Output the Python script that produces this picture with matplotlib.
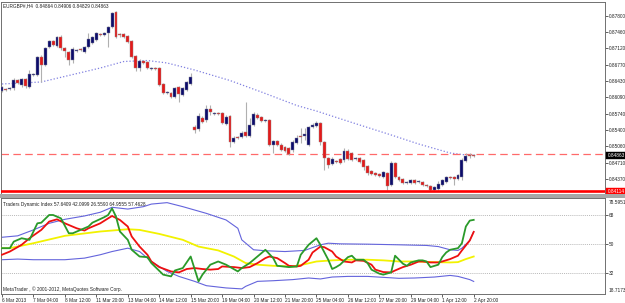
import matplotlib
matplotlib.use("Agg")
import matplotlib.pyplot as plt
import matplotlib.transforms as mtransforms
from matplotlib.patches import Rectangle

# EURGBP# H4, bar 0 = 6 Mar 2013 ... bar 120 = 2 Apr 20:00
opens = [.86223, .86265, .86265, .86286, .86454, .86349, .86475, .86307, .86559, .86559,
         .86938, .86769, .87148, .87274, .87169, .87359, .87127, .87043, .86875, .87064,
         .87106, .87043, .87148, .87232, .87295, .87422, .87401, .87443, .87569, .87885,
         .87422, .87422, .87380, .87274, .86959, .86706, .86854, .86833, .86685, .86706,
         .86706, .86370, .86180, .86180, .86096, .86307, .86138, .86244, .86370, .85465,
         .85423, .85654, .85612, .85843, .85738, .85759, .85759, .85528, .85696, .85149,
         .85255, .85255, .85360, .85276, .85507, .85717, .85675, .85591, .85612, .85086,
         .85170, .85086, .85044, .85023, .84981, .85128, .85276, .85276, .85086, .85465,
         .85486, .85549, .85149, .84813, .84687, .84750, .84792, .84771, .84960, .84918,
         .84792, .84813, .84771, .84645, .84539, .84497, .84476, .84413, .84497, .84245,
         .84708, .84413, .84371, .84287, .84287, .84350, .84308, .84308, .84245, .84224,
         .84140, .84161, .84245, .84308, .84413, .84413, .84371, .84413, .84750, .84876,
         .84864]
highs = [.86328, .86286, .86307, .86496, .86475, .86496, .86496, .86664, .86601, .86959,
         .86980, .87148, .87295, .87295, .87380, .87401, .87148, .87064, .87148, .87106,
         .87127, .87169, .87443, .87380, .87464, .87443, .87464, .87590, .87885, .87906,
         .87443, .87443, .87401, .87295, .86980, .86896, .86875, .86854, .86727, .86727,
         .86727, .86391, .86223, .86201, .86307, .86328, .86307, .86433, .86601, .85507,
         .85759, .85696, .85928, .85928, .85780, .85780, .85780, .85717, .85717, .85276,
         .85276, .85381, .85991, .85654, .85780, .85759, .85696, .85633, .85633, .85191,
         .85191, .85128, .85065, .85044, .85191, .85297, .85444, .85444, .85486, .85549,
         .85591, .85570, .85170, .84834, .84834, .84771, .84813, .85023, .85002, .84939,
         .84834, .84834, .84792, .84666, .84560, .84518, .84497, .84539, .84518, .84750,
         .84729, .84434, .84392, .84329, .84371, .84371, .84350, .84329, .84266, .84245,
         .84224, .84329, .84371, .84434, .84434, .84434, .84476, .84813, .84918, .84918,
         .84906]
lows = [.86201, .86223, .86244, .86244, .86370, .86307, .86286, .86286, .86538, .86538,
        .86412, .86748, .87127, .87169, .87148, .87085, .86938, .86769, .86812, .87043,
        .87064, .87022, .87127, .87211, .87274, .87380, .87380, .87148, .87548, .87337,
        .87359, .87337, .87232, .86917, .86643, .86643, .86791, .86685, .86664, .86664,
        .86328, .86159, .86159, .86075, .86075, .85991, .86117, .86223, .86349, .85339,
        .85381, .85549, .85570, .85717, .85717, .85717, .85528, .85507, .85044, .85128,
        .85212, .85234, .85255, .85255, .85486, .85633, .85570, .85570, .85065, .84918,
        .85065, .84960, .84939, .84876, .84939, .85107, .85128, .85191, .85065, .85444,
        .85465, .85086, .84560, .84602, .84666, .84708, .84687, .84729, .84771, .84750,
        .84771, .84708, .84560, .84455, .84455, .84434, .84413, .84392, .84140, .84224,
        .84392, .84329, .84266, .84266, .84266, .84266, .84287, .84224, .84203, .84114,
        .84114, .84140, .84224, .84287, .84371, .84245, .84350, .84350, .84729, .84813,
        .84829]
closes = [.86307, .86244, .86286, .86454, .86391, .86475, .86328, .86580, .86580, .86938,
          .86769, .87127, .87274, .87190, .87359, .87127, .87064, .86875, .87106, .87085,
          .87085, .87148, .87316, .87359, .87443, .87401, .87443, .87569, .87864, .87359,
          .87401, .87359, .87253, .86938, .86706, .86854, .86812, .86706, .86706, .86685,
          .86349, .86180, .86201, .86096, .86286, .86159, .86286, .86412, .86517, .85402,
          .85696, .85570, .85843, .85780, .85759, .85738, .85549, .85675, .85149, .85234,
          .85234, .85339, .85276, .85507, .85738, .85654, .85591, .85612, .85086, .85170,
          .85086, .84981, .84960, .84897, .85149, .85234, .85255, .85318, .85465, .85507,
          .85549, .85149, .84813, .84666, .84792, .84729, .84708, .84960, .84792, .84771,
          .84813, .84729, .84623, .84497, .84476, .84455, .84434, .84518, .84224, .84708,
          .84413, .84350, .84287, .84308, .84350, .84287, .84329, .84245, .84224, .84140,
          .84203, .84266, .84350, .84413, .84392, .84371, .84455, .84771, .84855, .84855,
          .84863]

# dotted moving average on the price chart
ma_bar = [0, 10, 17, 25, 31, 37, 42, 49, 58, 66, 75, 80, 89, 99, 106, 114, 118, 120]
ma_val = [.86370, .86412, .86549, .86706, .86843, .86864, .86812, .86664, .86443, .86201,
          .85917, .85801, .85560, .85297, .85107, .84918, .84876, .84870]

dash_level = 0.84900
support_level = 0.84114
last_price = 0.84863

price_ticks = [0.87800, 0.87460, 0.87120, 0.86770, 0.86430, 0.86090, 0.85740, 0.85400,
               0.85060, 0.84710, 0.84370]

# Traders Dynamic Index
green_bar = [0, 2, 3, 5, 7, 9, 10, 12, 13, 15, 17, 18, 20, 22, 23, 26, 27, 28, 29, 30,
             32, 33, 35, 37, 38, 41, 43, 44, 46, 48, 50, 51, 53, 55, 57, 60, 61, 63, 66, 67,
             69, 70, 73, 75, 76, 78, 80, 81, 83, 84, 85, 86, 88, 89, 90, 92, 93, 94, 96, 97,
             99, 100, 102, 103, 104, 106, 107, 108, 109, 111, 112, 113, 114, 116, 117, 118, 119, 120]
green_val = [47.3, 47.3, 51.4, 53.5, 52.5, 62.8, 63.2, 68.0, 68.0, 65.9, 56.6, 56.6, 58.7, 60.8,
             63.2, 66.6, 68.0, 72.1, 67.0, 57.7, 52.5, 46.3, 42.1, 41.7, 38.0, 30.8, 29.7, 33.4,
             34.9, 42.1, 26.6, 30.8, 37.0, 39.0, 37.0, 32.8, 34.9, 38.0, 44.2, 46.3, 41.1, 36.3,
             35.5, 35.9, 43.2, 49.4, 53.5, 49.4, 40.1, 34.3, 35.5, 37.0, 41.7, 42.6, 40.1, 40.1,
             38.0, 33.9, 31.4, 30.8, 32.2, 42.6, 37.6, 36.3, 38.4, 39.7, 39.7, 39.0, 35.5, 37.0,
             41.7, 44.6, 46.3, 47.3, 50.4, 60.8, 64.5, 64.9555]
red_bar = [0, 2, 5, 7, 10, 12, 14, 16, 19, 21, 22, 25, 27, 28, 30, 32, 33, 35, 37, 38,
           40, 43, 45, 47, 49, 51, 53, 55, 56, 59, 61, 63, 65, 67, 68, 70, 72, 73, 75, 76,
           78, 79, 81, 82, 84, 85, 87, 89, 90, 92, 94, 95, 97, 99, 100, 102, 104, 106, 107, 109,
           111, 112, 114, 116, 117, 119, 120]
red_val = [43.2, 45.2, 49.4, 53.5, 58.7, 63.9, 65.3, 62.8, 59.7, 58.3, 59.7, 62.8, 65.9, 67.4,
           64.9, 60.8, 54.6, 48.3, 43.2, 39.0, 35.5, 32.8, 32.2, 34.3, 34.9, 34.3, 33.9, 34.3,
           35.9, 35.5, 34.9, 35.5, 38.0, 41.1, 42.1, 41.1, 38.0, 36.3, 35.9, 36.3, 40.1, 44.6,
           48.3, 47.9, 45.2, 42.1, 39.0, 38.4, 39.7, 39.4, 37.0, 33.9, 32.4, 32.2, 33.4, 35.5,
           37.0, 39.0, 39.0, 38.4, 38.4, 39.0, 40.5, 42.6, 45.9, 52.1, 57.4628]
yellow_bar = [0, 2, 8, 16, 25, 32, 35, 40, 46, 50, 55, 59, 62, 65, 69, 74, 77, 80, 84, 88,
              93, 97, 101, 105, 110, 114, 116, 118, 120]
yellow_val = [47.3, 47.3, 50.4, 55.0, 57.7, 59.1, 58.7, 56.2, 52.5, 48.3, 45.9, 42.1, 38.0, 37.0,
              36.3, 35.9, 37.3, 39.0, 39.7, 40.1, 40.1, 39.7, 39.0, 39.0, 38.6, 38.4, 38.6, 40.5,
              42.0999]
upper_bar = [0, 4, 8, 12, 16, 21, 25, 28, 32, 36, 38, 42, 46, 52, 57, 60, 61, 64, 67, 72,
             77, 81, 83, 86, 93, 101, 108, 111, 114, 116, 117, 119, 120]
upper_val = [54.1, 55.0, 58.7, 62.8, 65.3, 67.4, 69.7, 72.8, 71.7, 73.2, 74.8, 75.7, 73.2, 69.0,
             64.9, 59.7, 52.5, 46.3, 45.7, 45.2, 45.9, 49.4, 50.4, 50.0, 49.8, 49.4, 49.0, 48.3,
             46.3, 45.9, 47.3, 52.1, 57.6409]
lower_bar = [0, 4, 8, 12, 16, 21, 25, 28, 32, 35, 38, 42, 45, 49, 52, 57, 61, 62, 65, 69,
             74, 78, 81, 84, 88, 93, 97, 101, 105, 110, 114, 116, 119, 120]
lower_val = [40.1, 40.5, 40.1, 40.1, 40.1, 41.1, 43.2, 45.2, 47.3, 45.2, 39.0, 32.8, 29.7, 26.6,
             23.9, 22.5, 21.9, 23.5, 26.6, 27.0, 27.7, 28.7, 28.1, 29.3, 29.7, 29.7, 29.1, 28.5,
             28.7, 29.3, 30.3, 29.7, 27.7, 26.5590]

tdi_levels = [68, 50, 32]
tdi_min, tdi_max = 18.7173, 78.5951

time_bars = [0, 8, 16, 24, 32, 40, 48, 56, 64, 72, 80, 88, 96, 104, 112, 120]
time_labels = ["6 Mar 2013", "7 Mar 04:00", "8 Mar 12:00", "11 Mar 20:00", "13 Mar 04:00",
               "14 Mar 12:00", "15 Mar 20:00", "19 Mar 04:00", "20 Mar 12:00", "21 Mar 20:00",
               "25 Mar 04:00", "26 Mar 12:00", "27 Mar 20:00", "29 Mar 04:00", "1 Apr 12:00",
               "2 Apr 20:00"]

plt.rcParams['font.family'] = ['Liberation Sans', 'DejaVu Sans']
FS = 3.4
TXT = '#202020'

W, H = 625, 303
fig = plt.figure(figsize=(W / 100, H / 100), dpi=100)
fig.patch.set_facecolor('white')

def box(x0, y0, x1, y1):
    # pixel box (from top-left) -> figure fractions
    return [x0 / W, 1 - y1 / H, (x1 - x0) / W, (y1 - y0) / H]

ax1 = fig.add_axes(box(1, 2, 605, 194))
ax2 = fig.add_axes(box(1, 198, 605, 294))
fig.add_artist(Rectangle((0, 1 - 197.6 / H), 1, 3.2 / H, transform=fig.transFigure,
                         color='#a8a8a8', lw=0))

xmin, xmax = -0.25, 153.4

# ---- price window
idx = list(range(len(opens)))
ax1.vlines(idx, lows, highs, color='#b0b0b0', lw=0.8, zorder=2)
bull = [i for i in idx if closes[i] > opens[i]]
bear = [i for i in idx if closes[i] <= opens[i]]
ax1.bar(bull, [max(closes[i] - opens[i], 0.00008) for i in bull],
        bottom=[opens[i] for i in bull], width=0.75, color='#0c0c6c',
        edgecolor='#8a8a9a', lw=0.3, zorder=3)
ax1.bar(bear, [max(opens[i] - closes[i], 0.00008) for i in bear],
        bottom=[closes[i] for i in bear], width=0.75, color='#e41a1a',
        edgecolor='#9a8a8a', lw=0.3, zorder=3)
ax1.plot(ma_bar, ma_val, color='#8080e0', lw=0.9, ls=(0, (1, 1.6)), zorder=1)
ax1.axhline(dash_level, color='#ff6a6a', lw=0.9, ls=(0, (6, 3.5)), zorder=1)
ax1.axhline(support_level, color='#ff0000', lw=1.9, zorder=4)

ax1.set_xlim(xmin, xmax)
ax1.set_ylim(0.84055, 0.88095)
ax1.set_xticks([])
ax1.yaxis.tick_right()
ax1.set_yticks(price_ticks)
ax1.set_yticklabels([f"{v:.5f}" for v in price_ticks])
ax1.tick_params(axis='y', length=2, width=0.5, pad=1, labelsize=FS, colors=TXT)

tr1 = mtransforms.blended_transform_factory(ax1.transAxes, ax1.transData)
ax1.text(1.004, last_price, f"{last_price:.5f}", transform=tr1, fontsize=FS, color='white',
         va='center', ha='left', clip_on=False,
         bbox=dict(boxstyle='square,pad=0.25', fc='black', ec='black', lw=0.3))
ax1.text(1.004, support_level, f"{support_level:.5f}", transform=tr1, fontsize=FS,
         color='white', va='center', ha='left', clip_on=False,
         bbox=dict(boxstyle='square,pad=0.25', fc='#ff0000', ec='#ff0000', lw=0.3))

fig.text(3 / W, 1 - 5.5 / H, "EURGBP#,H4  %.5f %.5f %.5f %.5f" % (opens[-1], highs[-1], lows[-1], closes[-1]),
         fontsize=FS, color=TXT, va='center', ha='left')

# ---- TDI window
for lv in tdi_levels:
    ax2.axhline(lv, color='#a0a0a0', lw=0.5, ls=(0, (1.5, 1.5)), zorder=1)
ax2.plot(upper_bar, upper_val, color='#6464dc', lw=0.8, zorder=2)
ax2.plot(lower_bar, lower_val, color='#6464dc', lw=0.8, zorder=2)
ax2.plot(yellow_bar, yellow_val, color='#f2f200', lw=1.3, zorder=3)
ax2.plot(red_bar, red_val, color='#ee1010', lw=1.3, zorder=4)
ax2.plot(green_bar, green_val, color='#2a9a2a', lw=1.3, zorder=5)

ax2.set_xlim(xmin, xmax)
ax2.set_ylim(tdi_min, tdi_max)
ax2.yaxis.tick_right()
ax2.set_yticks(tdi_levels)
ax2.set_yticklabels([str(v) for v in tdi_levels])
ax2.tick_params(axis='y', length=2, width=0.5, pad=1, labelsize=FS, colors=TXT)
ax2.set_xticks(time_bars)
ax2.set_xticklabels(time_labels)
for lbl in ax2.get_xticklabels():
    lbl.set_ha('left')
ax2.tick_params(axis='x', length=2, width=0.5, pad=0.8, labelsize=FS, colors=TXT)

tr2 = mtransforms.blended_transform_factory(ax2.transAxes, ax2.transData)
ax2.text(1.006, tdi_max - 1.0, f"{tdi_max:.4f}", transform=tr2, fontsize=FS, color=TXT,
         va='top', ha='left', clip_on=False)
ax2.text(1.006, tdi_min + 0.6, f"{tdi_min:.4f}", transform=tr2, fontsize=FS, color=TXT,
         va='bottom', ha='left', clip_on=False)
ax2.text(0.004, 0.955, "Traders Dynamic Index %.4f %.4f %.4f %.4f %.4f"
         % (upper_val[-1], yellow_val[-1], lower_val[-1], green_val[-1], red_val[-1]),
         transform=ax2.transAxes, fontsize=FS, color=TXT, va='top', ha='left')
ax2.text(0.004, 0.025, "MetaTrader , \u00a9 2001-2012, MetaQuotes Software Corp.",
         transform=ax2.transAxes, fontsize=FS, color=TXT, va='bottom', ha='left')

for ax in (ax1, ax2):
    ax.set_facecolor('white')
    for s in ax.spines.values():
        s.set_color('#707070')
        s.set_linewidth(0.7)

fig.savefig("out.png", dpi=100, facecolor='white')
